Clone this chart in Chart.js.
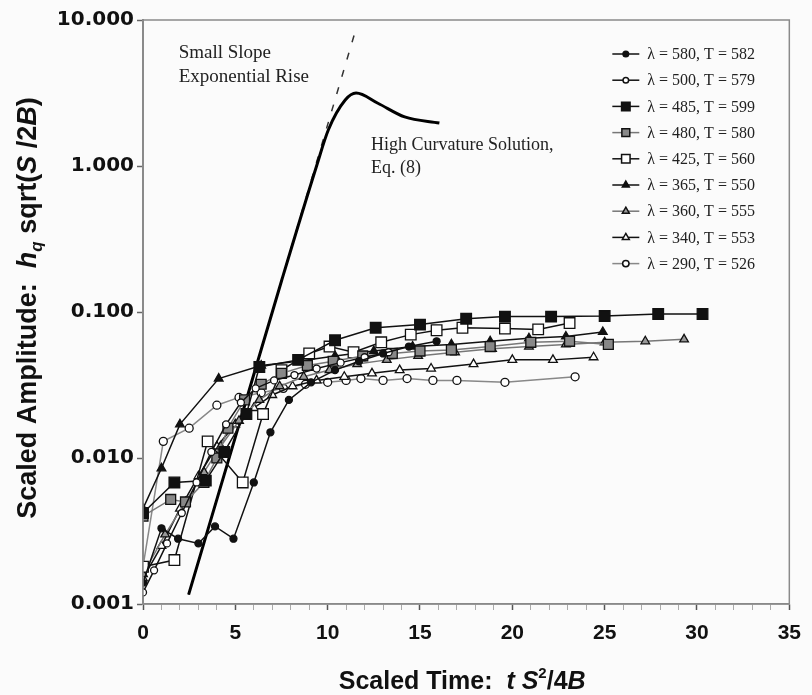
<!DOCTYPE html>
<html>
<head>
<meta charset="utf-8">
<script src="https://cdn.jsdelivr.net/npm/chart.js@4.4.1/dist/chart.umd.min.js"></script>
<style>
    html, body { margin: 0; padding: 0; background: #fbfbfb; }
</style>
</head>
<body>
<canvas id="amp-chart" width="812" height="695"></canvas>
<script>
// tick values
const xTickValues = [0, 5, 10, 15, 20, 25, 30, 35];
const yTickValues = [10, 1, 0.1, 0.01, 0.001];

// measured runs: [scaled time, scaled amplitude]
const lam580 = [[0,0.0014],[1.0,0.0033],[1.9,0.0028],[3.0,0.0026],[3.9,0.0034],[4.9,0.0028],[6.0,0.0068],[6.9,0.015],[7.9,0.025],[9.1,0.033],[10.4,0.040],[11.7,0.046],[13.0,0.052],[14.4,0.058],[15.9,0.063]];
const lam500 = [[0,0.0012],[0.6,0.0017],[1.3,0.0026],[2.1,0.0042],[2.9,0.0068],[3.7,0.011],[4.5,0.017],[5.3,0.024],[6.1,0.030],[7.1,0.034],[8.2,0.037],[9.4,0.041],[10.7,0.045],[12.0,0.049],[13.3,0.053]];
const lam485 = [[0,0.0042],[1.7,0.0068],[3.4,0.0070],[4.4,0.011],[5.6,0.020],[6.3,0.042],[8.4,0.047],[10.4,0.064],[12.6,0.078],[15.0,0.082],[17.5,0.090],[19.6,0.093],[22.1,0.093],[25.0,0.094],[27.9,0.097],[30.3,0.097]];
const lam480 = [[0,0.0040],[1.5,0.0052],[2.3,0.0050],[3.3,0.0068],[4.0,0.010],[4.6,0.016],[5.5,0.025],[6.4,0.032],[7.5,0.038],[8.9,0.043],[10.3,0.046],[11.9,0.050],[13.5,0.052],[15.0,0.054],[16.7,0.055],[18.8,0.058],[21.0,0.062],[23.1,0.063],[25.2,0.060]];
const lam425 = [[0,0.0018],[1.7,0.0020],[3.5,0.013],[5.4,0.0068],[6.5,0.020],[7.5,0.040],[9.0,0.052],[10.1,0.058],[11.4,0.053],[12.9,0.062],[14.5,0.070],[15.9,0.075],[17.3,0.078],[19.6,0.077],[21.4,0.076],[23.1,0.084]];
const lam365 = [[0,0.0045],[1.0,0.0085],[2.0,0.017],[4.1,0.035],[6.4,0.043],[8.4,0.046],[10.4,0.050],[12.5,0.054],[14.6,0.058],[16.7,0.060],[18.8,0.063],[20.9,0.066],[22.9,0.068],[24.9,0.073]];
const lam360 = [[0,0.0016],[1.2,0.0030],[2.3,0.0050],[3.3,0.0080],[4.2,0.012],[5.2,0.018],[6.3,0.025],[7.4,0.031],[8.7,0.036],[10.1,0.040],[11.6,0.044],[13.2,0.047],[14.9,0.050],[16.9,0.053],[18.9,0.056],[20.9,0.058],[22.9,0.060],[25.0,0.062],[27.2,0.063],[29.3,0.065]];
const lam340 = [[0,0.0015],[1.0,0.0025],[2.0,0.0045],[3.0,0.0075],[4.0,0.012],[5.0,0.017],[6.0,0.022],[7.0,0.027],[8.1,0.031],[9.4,0.034],[10.9,0.036],[12.4,0.038],[13.9,0.040],[15.6,0.041],[17.9,0.044],[20.0,0.047],[22.2,0.047],[24.4,0.049]];
const lam290 = [[0,0.0018],[1.1,0.013],[2.5,0.016],[4.0,0.023],[5.2,0.026],[6.4,0.028],[7.6,0.030],[8.8,0.032],[10.0,0.033],[11.0,0.034],[11.8,0.035],[13.0,0.034],[14.3,0.035],[15.7,0.034],[17.0,0.034],[19.6,0.033],[23.4,0.036]];

// model curves
const highCurvature = [[2.47,0.00116],[5.0,0.0139],[7.5,0.163],[9.4,1.0],[10.04,1.77],[10.95,2.83],[11.54,3.16],[12.72,2.69],[14.17,2.17],[16.05,1.97]];
const smallSlope = [[2.47,0.00116],[11.57,9.0]];

const runLabels = ['λ = 580, T = 582', 'λ = 500, T = 579', 'λ = 485, T = 599', 'λ = 480, T = 580',
    'λ = 425, T = 560', 'λ = 365, T = 550', 'λ = 360, T = 555', 'λ = 340, T = 553', 'λ = 290, T = 526'];

const toXY = arr => arr.map(p => ({ x: p[0], y: p[1] }));

function run(label, pts, style, radius, fill, line) {
    return {
        label: label,
        data: toXY(pts),
        showLine: true,
        borderColor: line,
        borderWidth: 1.5,
        pointStyle: style,
        pointRadius: radius,
        pointBackgroundColor: fill,
        pointBorderColor: '#111',
        pointBorderWidth: 1.3,
        isRun: true
    };
}

const datasets = [
    run(runLabels[0], lam580, 'circle', 3.5, '#111', '#111'),
    run(runLabels[1], lam500, 'circle', 3.5, '#fff', '#111'),
    run(runLabels[2], lam485, 'rect', 7.5, '#111', '#111'),
    run(runLabels[3], lam480, 'rect', 7, '#888', '#777'),
    run(runLabels[4], lam425, 'rect', 7.5, '#fff', '#111'),
    run(runLabels[5], lam365, 'triangle', 5, '#111', '#111'),
    run(runLabels[6], lam360, 'triangle', 5, '#999', '#777'),
    run(runLabels[7], lam340, 'triangle', 5, '#fff', '#111'),
    run(runLabels[8], lam290, 'circle', 4, '#fff', '#888'),
    {
        label: 'High Curvature Solution',
        data: toXY(highCurvature),
        showLine: true,
        borderColor: '#000',
        borderWidth: 3,
        pointRadius: 0,
        cubicInterpolationMode: 'monotone'
    },
    {
        label: 'Small Slope Exponential Rise',
        data: toXY(smallSlope),
        showLine: true,
        borderColor: '#333',
        borderWidth: 1.5,
        borderDash: [7, 11],
        pointRadius: 0
    }
];

function drawRuns(ctx, runs, x, y) {
    let total = 0;
    runs.forEach(r => { ctx.font = r.font; total += ctx.measureText(r.t).width; });
    let cx = x - total / 2;
    runs.forEach(r => {
        ctx.font = r.font;
        ctx.fillText(r.t, cx, y + (r.dy || 0));
        cx += ctx.measureText(r.t).width;
    });
}

const extras = {
    id: 'extras',
    afterDraw(chart) {
        const { ctx, chartArea: a, scales: { x, y } } = chart;
        ctx.save();

        // plot frame
        ctx.strokeStyle = '#8a8a8a';
        ctx.lineWidth = 1.5;
        ctx.strokeRect(a.left, a.top, a.right - a.left, a.bottom - a.top);

        // annotations
        ctx.fillStyle = '#222';
        ctx.textBaseline = 'middle';
        ctx.textAlign = 'left';
        ctx.font = '19px "Liberation Serif", "Times New Roman", serif';
        ctx.fillText('Small Slope', x.getPixelForValue(1.93), y.getPixelForValue(5.95));
        ctx.fillText('Exponential Rise', x.getPixelForValue(1.93), y.getPixelForValue(4.07));
        ctx.font = '18px "Liberation Serif", "Times New Roman", serif';
        ctx.fillText('High Curvature Solution,', x.getPixelForValue(12.35), y.getPixelForValue(1.39));
        ctx.fillText('Eq. (8)', x.getPixelForValue(12.35), y.getPixelForValue(0.97));

        // legend
        ctx.font = '16px "Liberation Serif", "Times New Roman", serif';
        chart.data.datasets.filter(d => d.isRun).forEach((d, i) => {
            const ly = a.top + 34 + i * 26.2;
            const lx = a.right - 177;
            ctx.strokeStyle = d.borderColor;
            ctx.lineWidth = 1.5;
            ctx.beginPath();
            ctx.moveTo(lx, ly);
            ctx.lineTo(lx + 27, ly);
            ctx.stroke();
            ctx.fillStyle = d.pointBackgroundColor;
            ctx.strokeStyle = '#111';
            Chart.helpers.drawPoint(ctx, {
                pointStyle: d.pointStyle, rotation: 0,
                radius: d.pointRadius * 0.8, borderWidth: 1.2
            }, lx + 13.5, ly);
            ctx.fillStyle = '#222';
            ctx.fillText(d.label, lx + 35, ly + 1);
        });

        // axis titles
        ctx.fillStyle = '#111';
        ctx.textBaseline = 'alphabetic';
        const sans = '"Liberation Sans", Arial, sans-serif';
        drawRuns(ctx, [
            { t: 'Scaled Time:  ', font: 'bold 25px ' + sans },
            { t: 't ', font: 'italic bold 25px ' + sans },
            { t: 'S', font: 'italic bold 25px ' + sans },
            { t: '2', font: 'bold 15px ' + sans, dy: -11 },
            { t: '/4', font: 'bold 25px ' + sans },
            { t: 'B', font: 'italic bold 25px ' + sans }
        ], (a.left + a.right) / 2 - 4, 689);

        ctx.translate(36, (a.top + a.bottom) / 2 - 4);
        ctx.rotate(-Math.PI / 2);
        drawRuns(ctx, [
            { t: 'Scaled Amplitude:  ', font: 'bold 27px ' + sans },
            { t: 'h', font: 'italic bold 27px ' + sans },
            { t: 'q', font: 'italic bold 17px ' + sans, dy: 6 },
            { t: ' sqrt(', font: 'bold 27px ' + sans },
            { t: 'S', font: 'italic bold 27px ' + sans },
            { t: ' /2', font: 'bold 27px ' + sans },
            { t: 'B', font: 'italic bold 27px ' + sans },
            { t: ')', font: 'bold 27px ' + sans }
        ], 0, 0);
        ctx.restore();
    }
};

const ctx = document.getElementById('amp-chart').getContext('2d');
const chart = new Chart(ctx, {
    type: 'scatter',
    data: { datasets: datasets },
    plugins: [extras],
    options: {
        responsive: false,
        animation: false,
        layout: { padding: { top: 20, right: 17, left: 0, bottom: 0 } },
        plugins: {
            legend: { display: false },
            tooltip: { enabled: false }
        },
        scales: {
            x: {
                type: 'linear',
                min: 0,
                max: 35,
                afterBuildTicks: scale => {
                    const t = [];
                    for (let v = xTickValues[0]; v <= xTickValues[xTickValues.length - 1]; v++) t.push({ value: v });
                    scale.ticks = t;
                },
                afterFit: scale => { scale.height = 91; },
                grid: {
                    drawOnChartArea: false,
                    tickLength: 6,
                    tickColor: c => (xTickValues.includes(c.tick.value) ? '#555' : '#aaa'),
                    tickWidth: c => (xTickValues.includes(c.tick.value) ? 1.5 : 1)
                },
                border: { display: true, color: '#888', width: 1.5 },
                ticks: {
                    autoSkip: false,
                    maxRotation: 0,
                    padding: 11,
                    color: '#111',
                    font: { family: '"Liberation Sans", Arial, sans-serif', weight: 'bold', size: 21 },
                    callback: v => (xTickValues.includes(v) ? String(v) : '')
                }
            },
            y: {
                type: 'logarithmic',
                min: 0.001,
                max: 10,
                afterBuildTicks: scale => { scale.ticks = yTickValues.map(v => ({ value: v })); },
                afterFit: scale => { scale.width = 143; },
                grid: { drawOnChartArea: false, tickLength: 6, tickColor: '#666', tickWidth: 1.5 },
                border: { display: true, color: '#888', width: 2 },
                ticks: {
                    padding: 3,
                    color: '#111',
                    font: { family: '"DejaVu Sans", sans-serif', weight: 'bold', size: 20 },
                    callback: v => Number(v).toFixed(3)
                }
            }
        }
    }
});
</script>
</body>
</html>
